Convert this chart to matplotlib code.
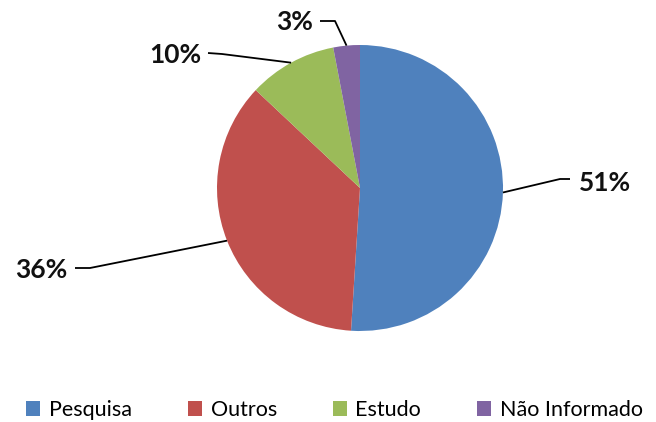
import numpy as np
import matplotlib.pyplot as plt
from matplotlib.patches import Patch

categories = ['Pesquisa', 'Outros', 'Estudo', 'Não Informado']
shares = [51, 36, 10, 3]
labels = ['51%', '36%', '10%', '3%']
colors = ['#4F81BD', '#C0504D', '#9BBB59', '#8064A2']

W, H = 656, 422
plt.rcParams['font.family'] = ['Lato', 'DejaVu Sans']

fig = plt.figure(figsize=(W / 100, H / 100), dpi=100)
ax = fig.add_axes([0, 0, 1, 1])

cx, cy, r = 360, H - 188, 143
wedges, _ = ax.pie(shares, colors=colors, startangle=90, counterclock=False,
                   center=(cx, cy), radius=r, frame=True,
                   wedgeprops=dict(linewidth=0))
ax.set_xlim(0, W)
ax.set_ylim(0, H)
ax.set_aspect('equal')
ax.axis('off')

# leader line elbow / text positions in pixel space (y from top)
elbows = [((560, 179), (570, 179), (579, 183), 'left'),
          ((90, 268), (75, 268), (67, 270), 'right'),
          ((222, 54), (208, 53), (201, 55), 'right'),
          ((335, 21), (320, 21), (313, 22), 'right')]

for w, lab, (e1, e2, tp, ha) in zip(wedges, labels, elbows):
    mid = np.deg2rad((w.theta1 + w.theta2) / 2)
    px, py = cx + r * np.cos(mid), cy + r * np.sin(mid)
    ax.plot([px, e1[0], e2[0]], [py, H - e1[1], H - e2[1]],
            color='black', lw=1.3, solid_capstyle='butt')
    ax.text(tp[0], H - tp[1], lab, ha=ha, va='center', fontsize=19,
            fontweight='bold', color='#111111')

handles = [Patch(facecolor=c, edgecolor='none') for c in colors]
fig.legend(handles, categories, loc='center', bbox_to_anchor=(0.51, 1 - 410 / H),
           ncol=4, frameon=False, fontsize=15.5, handlelength=0.65, handleheight=0.65,
           handletextpad=0.4, columnspacing=2.6)

fig.savefig('out.png', dpi=100)
